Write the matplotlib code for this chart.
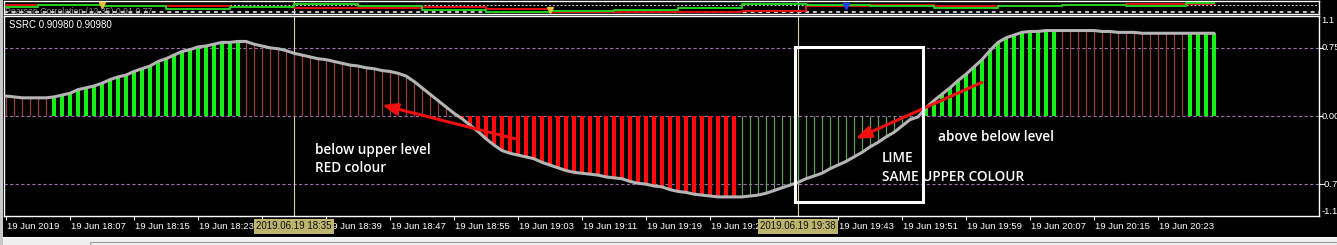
import matplotlib
matplotlib.use("Agg")
import matplotlib.pyplot as plt
import matplotlib.transforms as mtransforms
from matplotlib.patches import Rectangle
import numpy as np

W, H = 1337, 245

# ---------------- data ----------------
ssrc_values = [
    0.22, 0.21, 0.20, 0.20, 0.20, 0.20,
    0.21, 0.23, 0.25, 0.29, 0.31, 0.33, 0.36, 0.40, 0.43, 0.45, 0.49, 0.52,
    0.55, 0.60, 0.63, 0.67, 0.71, 0.73, 0.76, 0.77, 0.79, 0.81, 0.81, 0.82,
    0.82, 0.79, 0.77, 0.75, 0.74, 0.72, 0.69, 0.67, 0.65, 0.63, 0.62, 0.60,
    0.58, 0.56, 0.55, 0.53, 0.52, 0.50, 0.49, 0.47, 0.44, 0.38, 0.31, 0.24,
    0.17, 0.10, 0.03,
    -0.03, -0.10, -0.17, -0.25, -0.32, -0.38, -0.41, -0.43, -0.45, -0.47,
    -0.51, -0.54, -0.57, -0.60, -0.62, -0.63, -0.64, -0.65, -0.67, -0.68,
    -0.69, -0.72, -0.74, -0.75, -0.77, -0.78, -0.81, -0.83, -0.84, -0.86,
    -0.87, -0.88, -0.89, -0.89, -0.89,
    -0.89, -0.88, -0.87, -0.85, -0.82, -0.79, -0.76, -0.73, -0.69, -0.66,
    -0.63, -0.58, -0.54, -0.50, -0.45, -0.40, -0.34, -0.29, -0.23, -0.18,
    -0.11, -0.04, -0.01,
    0.09, 0.17, 0.24, 0.31, 0.39, 0.46, 0.54, 0.62, 0.72, 0.81, 0.86, 0.89,
    0.92, 0.93, 0.93, 0.94, 0.94,
    0.94, 0.94, 0.94, 0.94, 0.94, 0.93, 0.93, 0.92, 0.92, 0.92, 0.91, 0.91,
    0.91, 0.91, 0.91, 0.91,
    0.91, 0.91, 0.91, 0.91,
]
# bar style per bar: L = lime thick, R = red thick, B = brown thin, G = green thin
bar_styles = ("BBBBBB"
              "LLLLLLLLLLLLLLLLLLLLLLLL"
              "BBBBBBBBBBBBBBBBBBBBBBBBBBB"
              "RRRRRRRRRRRRRRRRRRRRRRRRRRRRRRRRRRR"
              "GGGGGGGGGGGGGGGGGGGGGGG"
              "LLLLLLLLLLLLLLLLL"
              "BBBBBBBBBBBBBBBB"
              "LLLL")
levels = [0.75, 0.0, -0.75]
level_labels = ["0.75", "0.00", "-0.75"]

# ticks every 8 bars; the 18:31 and 19:35 labels are hidden under the crosshair boxes
tick_idx = [0, 8, 16, 24, 32, 40, 48, 56, 64, 72, 80, 88, 96, 104, 112, 120, 128, 136, 144]
tick_labels = ["19 Jun 2019", "19 Jun 18:07", "19 Jun 18:15", "19 Jun 18:23", "",
               "19 Jun 18:39", "19 Jun 18:47", "19 Jun 18:55", "19 Jun 19:03", "19 Jun 19:11",
               "19 Jun 19:19", "19 Jun 19:27", "", "19 Jun 19:43", "19 Jun 19:51",
               "19 Jun 19:59", "19 Jun 20:07", "19 Jun 20:15", "19 Jun 20:23"]
crosshair_idx = [36, 99]
crosshair_labels = ["2019.06.19 18:35", "2019.06.19 19:38"]

# Pearson correlation mini panel
pearson_idx = [0, 8, 16, 24, 32, 40, 48, 56, 64, 72, 80, 88, 96, 104, 112, 120, 128, 136, 144, 151]
pearson_red = [0.86, 0.86, 0.82, 0.82, 0.78, 0.74, 0.74, 0.78, 0.70, 0.58,
               0.58, 0.58, 0.62, 0.82, 0.86, 0.82, 0.82, 0.86, 0.90, 0.90]
pearson_green = [0.78, 0.86, 0.82, 0.70, 0.78, 0.90, 0.82, 0.66, 0.58, 0.62,
                 0.66, 0.74, 0.90, 0.86, 0.82, 0.74, 0.82, 0.86, 0.82, 0.94]
pearson_levels = [0.86, 0.58]
marker_idx = [12, 68, 105]
marker_val = [0.86, 0.66, 0.82]
marker_col = ["#e8c040", "#e8c040", "#2040ff"]

# annotations (data coordinates)
arrow1 = ((63.6, -0.25), (47.0, 0.12))   # (tail, head)
arrow2 = ((122.0, 0.37), (106.2, -0.25))
box_rect = (98.6, -0.946, 16.0, 1.705)

# ---------------- figure ----------------
def rect(l, t, r, b):
    return [l / W, 1 - b / H, (r - l) / W, (b - t) / H]

fig = plt.figure(figsize=(W / 100, H / 100), dpi=100, facecolor="black")

tick_font = ["Liberation Sans Narrow", "Liberation Sans", "DejaVu Sans"]
note_font = ["Open Sans", "DejaVu Sans"]

XL = (-0.25, 164.125)

# bottom gray status strip
fig.patches.append(Rectangle((0, 0), 1, 7 / H, transform=fig.transFigure,
                             facecolor="#f0f0f0", edgecolor="none", zorder=0))
fig.patches.append(Rectangle((0, 7 / H), 1, 1.2 / H, transform=fig.transFigure,
                             facecolor="#ffffff", edgecolor="none", zorder=0))
fig.patches.append(Rectangle((90 / W, -0.01), (1337 - 90) / W, 5.5 / H, transform=fig.transFigure,
                             facecolor="none", edgecolor="#a0a0a0", linewidth=0.8, zorder=1))
fig.patches.append(Rectangle((0, 0), 2.5 / W, 1, transform=fig.transFigure,
                             facecolor="#c8c8c8", edgecolor="none", zorder=0))

# ---- main panel ----
ax = fig.add_axes(rect(4, 16, 1319, 216))
ax.set_facecolor("black")
ax.set_xlim(*XL)
ax.set_ylim(-1.1, 1.1)
for s in ax.spines.values():
    s.set_color("white")
    s.set_linewidth(1.0)

idx = np.arange(len(ssrc_values))
vals = np.array(ssrc_values)
styles = np.array(list(bar_styles))

for lv in levels:
    ax.axhline(lv, color="#9a6fae", lw=0.8, dashes=(3, 2), zorder=1)
for c in crosshair_idx:
    ax.axvline(c, color="#d8d0b0", lw=0.8, zorder=1.5)

thick_col = {"L": "#16f016", "R": "#ff0a0a"}
thin_col = {"B": "#96403c", "G": "#5f9f5f"}
for k, col in thick_col.items():
    m = styles == k
    ax.bar(idx[m], vals[m], width=0.62, color=col, linewidth=0, zorder=2)
for k, col in thin_col.items():
    m = styles == k
    ax.vlines(idx[m], 0, vals[m], color=col, lw=0.9, zorder=2)

ax.plot(idx, vals, color="#b4b4b4", lw=2.2, solid_capstyle="round", zorder=3)

ax.set_xticks(tick_idx)
ax.set_xticklabels([])
ax.set_yticks(levels)
ax.set_yticklabels([])
ax.tick_params(axis="x", direction="out", length=3, width=0.8, color="white", top=False)
ax.tick_params(axis="y", direction="out", length=3, width=0.8, color="white",
               left=False, right=True)

bt = mtransforms.blended_transform_factory(ax.transData, ax.transAxes)
for i, lab in zip(tick_idx, tick_labels):
    if lab:
        ax.text(i + 0.1, -0.052, lab, transform=bt, ha="left", va="center",
                color="white", fontsize=6.8, family=tick_font, zorder=4, clip_on=False)
for i, lab in zip(crosshair_idx, crosshair_labels):
    ax.text(i, -0.052, lab, transform=bt, ha="center", va="center", color="#101010",
            fontsize=7.0, family=tick_font, zorder=6, clip_on=False,
            bbox=dict(boxstyle="square,pad=0.25", facecolor="#bdb46e", edgecolor="none"))

rt = mtransforms.blended_transform_factory(ax.transAxes, ax.transData)
for lv, lab in zip(levels, level_labels):
    ax.text(1.0018, lv, lab, transform=rt, ha="left", va="center", color="white",
            fontsize=6.8, family=tick_font, clip_on=False)
ax.text(1.0018, 1.1, "1.1", transform=rt, ha="left", va="top", color="white",
        fontsize=6.8, family=tick_font, clip_on=False)
ax.text(1.0018, -1.1, "-1.1", transform=rt, ha="left", va="bottom", color="white",
        fontsize=6.8, family=tick_font, clip_on=False)

ax.text(0.0038, 0.955, "SSRC 0.90980 0.90980", transform=ax.transAxes, ha="left",
        va="center", color="white", fontsize=7.0, family=["Liberation Sans", "DejaVu Sans"])

# annotations
for tail, head in (arrow1, arrow2):
    ax.annotate("", xy=head, xytext=tail,
                arrowprops=dict(arrowstyle="-|>,head_length=0.9,head_width=0.35",
                                color="#f01010", lw=2.2, shrinkA=0, shrinkB=0), zorder=5)
ax.add_patch(Rectangle(box_rect[:2], box_rect[2], box_rect[3], fill=False,
                       edgecolor="white", linewidth=2.2, zorder=5))

note_kw = dict(color="white", fontsize=9.8, family=note_font, weight="semibold",
               ha="left", va="center", zorder=6)
ax.text(38.6, -0.37, "below upper level", **note_kw)
ax.text(38.6, -0.57, "RED colour", **note_kw)
ax.text(116.5, -0.23, "above below level", **note_kw)
ax.text(109.5, -0.46, "LIME", **note_kw)
ax.text(109.5, -0.67, "SAME UPPER COLOUR", **note_kw)

# ---- Pearson correlation mini panel ----
ax2 = fig.add_axes(rect(4, 1, 1319, 14))
ax2.set_facecolor("black")
ax2.set_xlim(*XL)
ax2.set_ylim(0.5, 1.02)
ax2.set_xticks([])
ax2.set_yticks([])
for s in ax2.spines.values():
    s.set_color("white")
    s.set_linewidth(1.0)
ax2.text(0.001, 0.16, "Pearson Correlation (12,35) 0.91 0.77", transform=ax2.transAxes,
         ha="left", va="center", color="#8c8c8c", fontsize=6.3,
         family=["Liberation Sans", "DejaVu Sans"], zorder=1)
ax2.axhline(pearson_levels[0], color="#d0d0d0", lw=0.7, dashes=(2, 2), zorder=2)
ax2.axhline(pearson_levels[1], color="#c8c8c8", lw=1.4, dashes=(2, 2), zorder=2)
ax2.plot(pearson_idx, pearson_red, color="#e01010", lw=1.4, drawstyle="steps-mid", zorder=3)
ax2.plot(pearson_idx, pearson_green, color="#20d020", lw=1.4, drawstyle="steps-mid", zorder=3)
for i, v, c in zip(marker_idx, marker_val, marker_col):
    ax2.plot([i], [v], marker="v", color=c, markersize=4, zorder=4)
for c in crosshair_idx:
    ax2.axvline(c, color="#d8d0b0", lw=0.8, zorder=1.5)

fig.savefig("out.png", dpi=100, facecolor="black")
